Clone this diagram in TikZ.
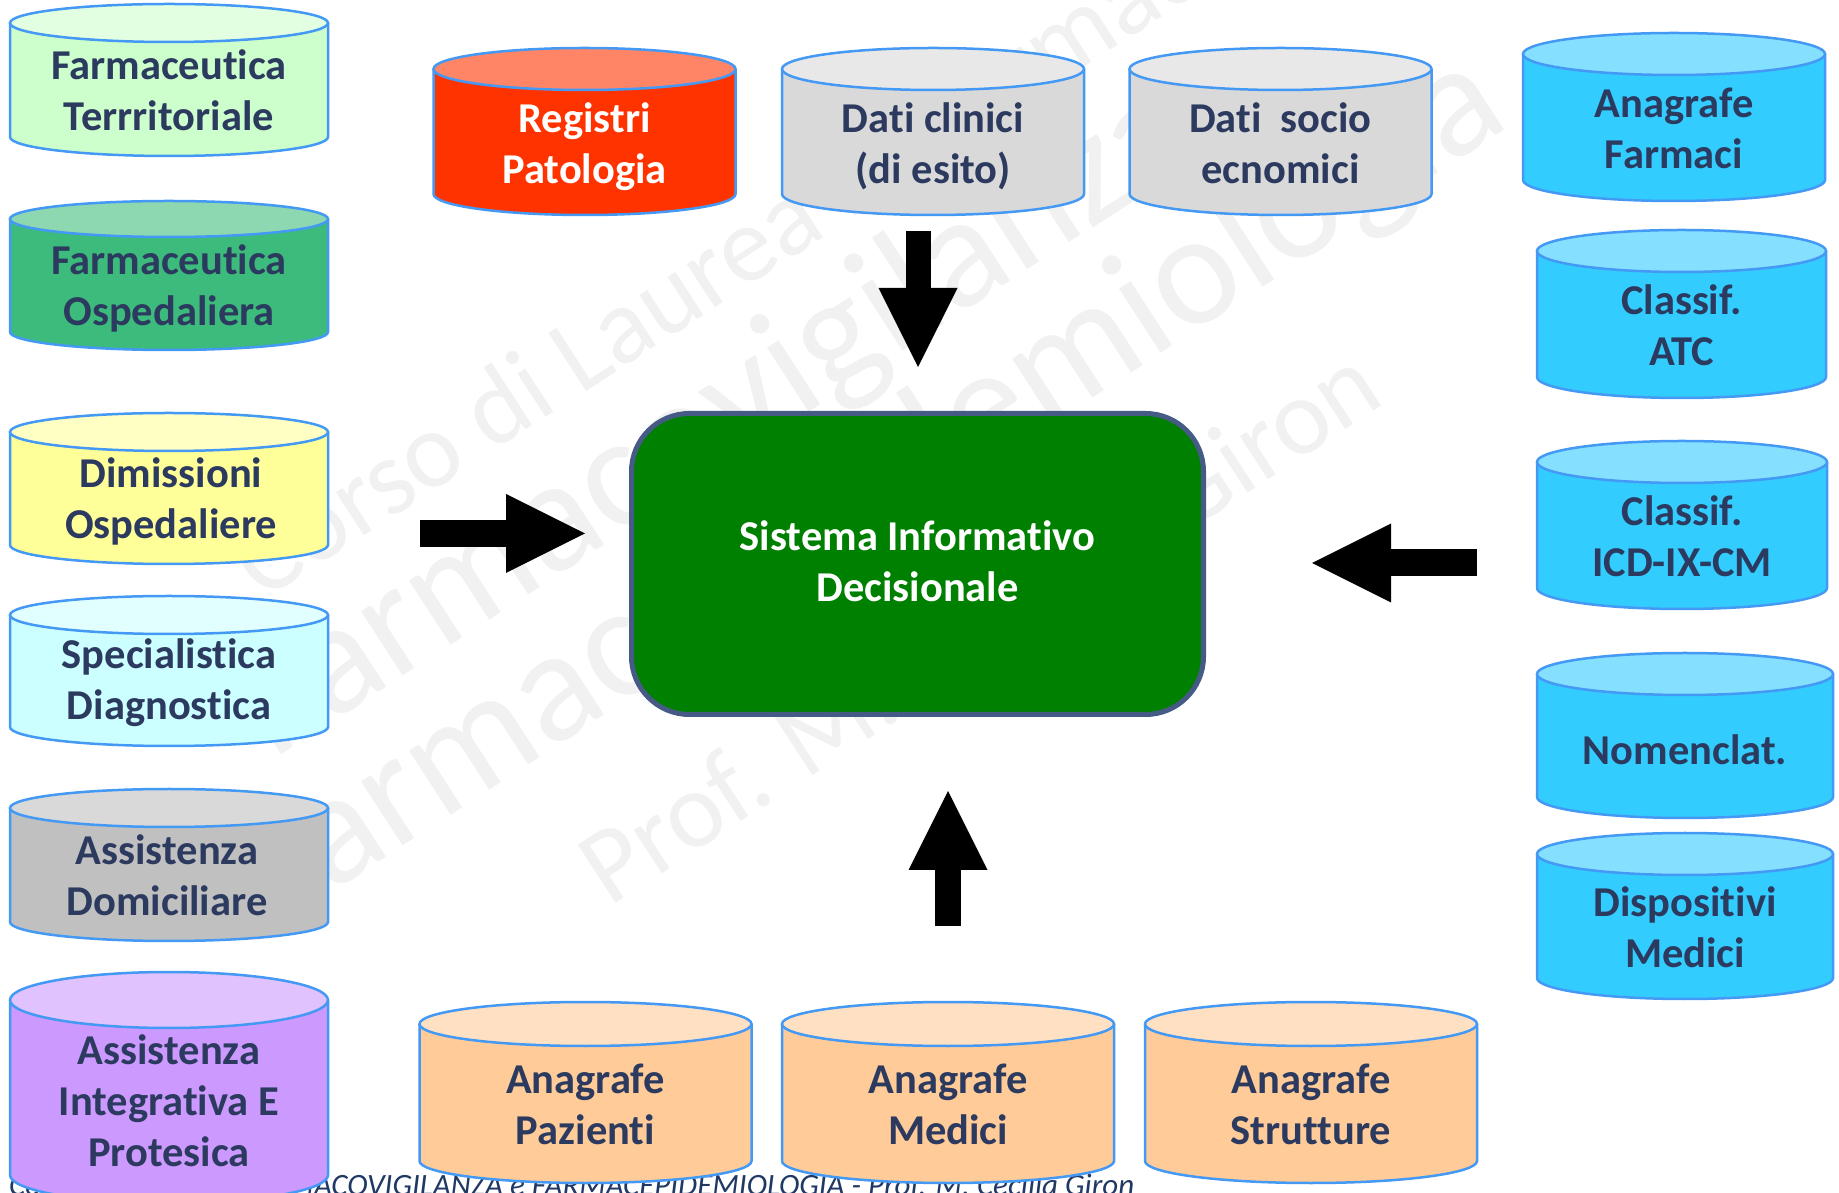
\documentclass[tikz,border=0pt]{standalone}
\usepackage{fontspec}
\setmainfont{Carlito}[Ligatures={NoCommon}]
\usetikzlibrary{arrows.meta}

\definecolor{txt}{HTML}{2B3A5E}
\definecolor{footc}{HTML}{1F3864}
\definecolor{wm}{HTML}{F1F1F1}
\definecolor{cedge}{HTML}{4499F5}
\definecolor{ftbody}{HTML}{CCFFCC}\definecolor{fttop}{HTML}{E2FFE2}
\definecolor{fobody}{HTML}{3DBB7C}\definecolor{fotop}{HTML}{8ED8B1}
\definecolor{dobody}{HTML}{FFFF99}\definecolor{dotop}{HTML}{FFFFC4}
\definecolor{sdbody}{HTML}{CCFFFF}\definecolor{sdtop}{HTML}{E2FFFF}
\definecolor{adbody}{HTML}{C0C0C0}\definecolor{adtop}{HTML}{D9D9D9}
\definecolor{aibody}{HTML}{CC99FF}\definecolor{aitop}{HTML}{E0C2FF}
\definecolor{rpbody}{HTML}{FF3300}\definecolor{rptop}{HTML}{FF8566}
\definecolor{grbody}{HTML}{D9D9D9}\definecolor{grtop}{HTML}{E8E8E8}
\definecolor{cybody}{HTML}{33CCFF}\definecolor{cytop}{HTML}{85E0FF}
\definecolor{orbody}{HTML}{FFCC99}\definecolor{ortop}{HTML}{FFE0C2}
\definecolor{sidgreen}{HTML}{008000}\definecolor{sidedge}{HTML}{465A86}

% database cylinder: centre x, top-ellipse y, bottom-ellipse y, x radius, y radius, body colour, lid colour
\newcommand{\dbcyl}[7]{%
  \pgfmathsetmacro\cylL{#1-#4}%
  \pgfmathsetmacro\cylR{#1+#4}%
  \fill[#6] (\cylL,#2) -- (\cylL,#3) arc[start angle=180,end angle=360,x radius=#4,y radius=#5] -- (\cylR,#2) -- cycle;
  \draw[cyledge] (\cylL,#2) -- (\cylL,#3) arc[start angle=180,end angle=360,x radius=#4,y radius=#5] -- (\cylR,#2);
  \draw[cyledge,fill=#7] (#1,#2) ellipse[x radius=#4,y radius=#5];
}

\begin{document}
\begin{tikzpicture}[x=1pt,y=1pt,
  cyledge/.style={draw=cedge,line width=2.5pt},
  cyltext/.style={inner sep=0pt,align=center,text=txt,
    font=\fontsize{42.5}{51}\selectfont\bfseries,
    execute at begin node=\strut,execute at end node=\strut},
  wmark/.style={inner sep=0pt,anchor=base west,rotate=33,text=wm},
  footer/.style={inner sep=0pt,anchor=base west,text=footc,
    font=\fontsize{31}{36}\selectfont\itshape},
  sidbox/.style={rounded corners=58pt,fill=sidgreen,draw=sidedge,line width=5pt,
    minimum width=572pt,minimum height=301pt,inner sep=0pt,align=center,text=white,
    font=\fontsize{42.5}{51}\selectfont\bfseries,
    text height=76pt,text depth=0pt},
  blockarrow/.style={line width=26pt,draw=black,
    -{Triangle[length=79pt,width=79pt,line width=0pt]}}
]
\useasboundingbox (0,0) rectangle (1839,1192);
\fill[white] (0,0) rectangle (1839,1192);

% background lettering
\node[wmark,font=\fontsize{108}{108}\selectfont] (wmA) at (262,590) {Corso di Laurea in Farmacia};
\node[wmark,font=\fontsize{160}{160}\selectfont] (wmB) at (272,431) {Farmacovigilanza};
\node[wmark,font=\fontsize{160}{160}\selectfont] (wmC) at (272,261) {Farmacoepidemiologia};
\node[wmark,font=\fontsize{108}{108}\selectfont] (wmD) at (609,284) {Prof. M. Cecilia Giron};

% footer line
\node[footer] (foot) at (9,-3) {Corso di Laurea in FARMACOVIGILANZA e FARMACEPIDEMIOLOGIA - Prof. M. Cecilia Giron};

% left column
\dbcyl{169}{1169}{1055}{159}{19}{ftbody}{fttop}
\node[cyltext] (ft) at (169,1094) {Farmaceutica\\Terrritoriale};
\dbcyl{169}{973}{860}{159}{18}{fobody}{fotop}
\node[cyltext] (fo) at (169,899) {Farmaceutica\\Ospedaliera};
\dbcyl{169}{760}{647}{159}{19}{dobody}{dotop}
\node[cyltext] (do) at (171,686) {Dimissioni\\Ospedaliere};
\dbcyl{169}{577}{465}{159}{19}{sdbody}{sdtop}
\node[cyltext] (sd) at (169,505) {Specialistica\\Diagnostica};
\dbcyl{169}{384}{270}{159}{19}{adbody}{adtop}
\node[cyltext] (ad) at (167,309) {Assistenza\\Domiciliare};
\dbcyl{169}{192}{17}{159}{28}{aibody}{aitop}
\node[cyltext] (ai) at (169,84) {Assistenza\\Integrativa E\\Protesica};

% top row
\dbcyl{584.5}{1123}{998}{151}{21}{rpbody}{rptop}
\node[cyltext,text=white] (rp) at (584.5,1041) {Registri\\Patologia};
\dbcyl{933}{1123}{998}{151}{21}{grbody}{grtop}
\node[cyltext] (dc) at (933,1041) {Dati clinici\\(di esito)};
\dbcyl{1280.5}{1123}{998}{151}{21}{grbody}{grtop}
\node[cyltext] (ds) at (1280.5,1041) {Dati~~socio\\ecnomici};

% right column
\dbcyl{1674}{1138}{1012}{151}{21}{cybody}{cytop}
\node[cyltext] (af) at (1674,1056) {Anagrafe\\Farmaci};
\dbcyl{1681.5}{941}{815}{144.5}{21}{cybody}{cytop}
\node[cyltext] (atc) at (1681.5,859.5) {Classif.\\ATC};
\dbcyl{1682}{730}{604}{145}{21}{cybody}{cytop}
\node[cyltext] (icd) at (1682,648) {Classif.\\ICD-IX-CM};
\dbcyl{1685}{518}{395}{148}{21}{cybody}{cytop}
\node[cyltext] (nom) at (1685,438) {Nomenclat.};
\dbcyl{1685}{338}{214}{148}{21}{cybody}{cytop}
\node[cyltext] (dm) at (1685,257) {Dispositivi\\Medici};

% bottom row
\dbcyl{585.5}{168}{31}{166}{22}{orbody}{ortop}
\node[cyltext] (ap) at (585.5,80) {Anagrafe\\Pazienti};
\dbcyl{948}{168}{31}{166}{22}{orbody}{ortop}
\node[cyltext] (am) at (948,80) {Anagrafe\\Medici};
\dbcyl{1311}{168}{31}{166}{22}{orbody}{ortop}
\node[cyltext] (as) at (1311,80) {Anagrafe\\Strutture};

% central system
\node[sidbox] (sid) at (917.5,628) {Sistema Informativo\\Decisionale};

% block arrows towards the centre
\coordinate (dnS) at (918,961);  \coordinate (dnE) at (918,825);
\coordinate (rtS) at (420,658.5); \coordinate (rtE) at (585,658.5);
\coordinate (ltS) at (1477,629); \coordinate (ltE) at (1312,629);
\coordinate (upS) at (948,266);  \coordinate (upE) at (948,401);
\draw[blockarrow,line width=25pt] (dnS) -- (dnE);
\draw[blockarrow,line width=27pt] (rtS) -- (rtE);
\draw[blockarrow,line width=27pt] (ltS) -- (ltE);
\draw[blockarrow] (upS) -- (upE);
\end{tikzpicture}
\end{document}
